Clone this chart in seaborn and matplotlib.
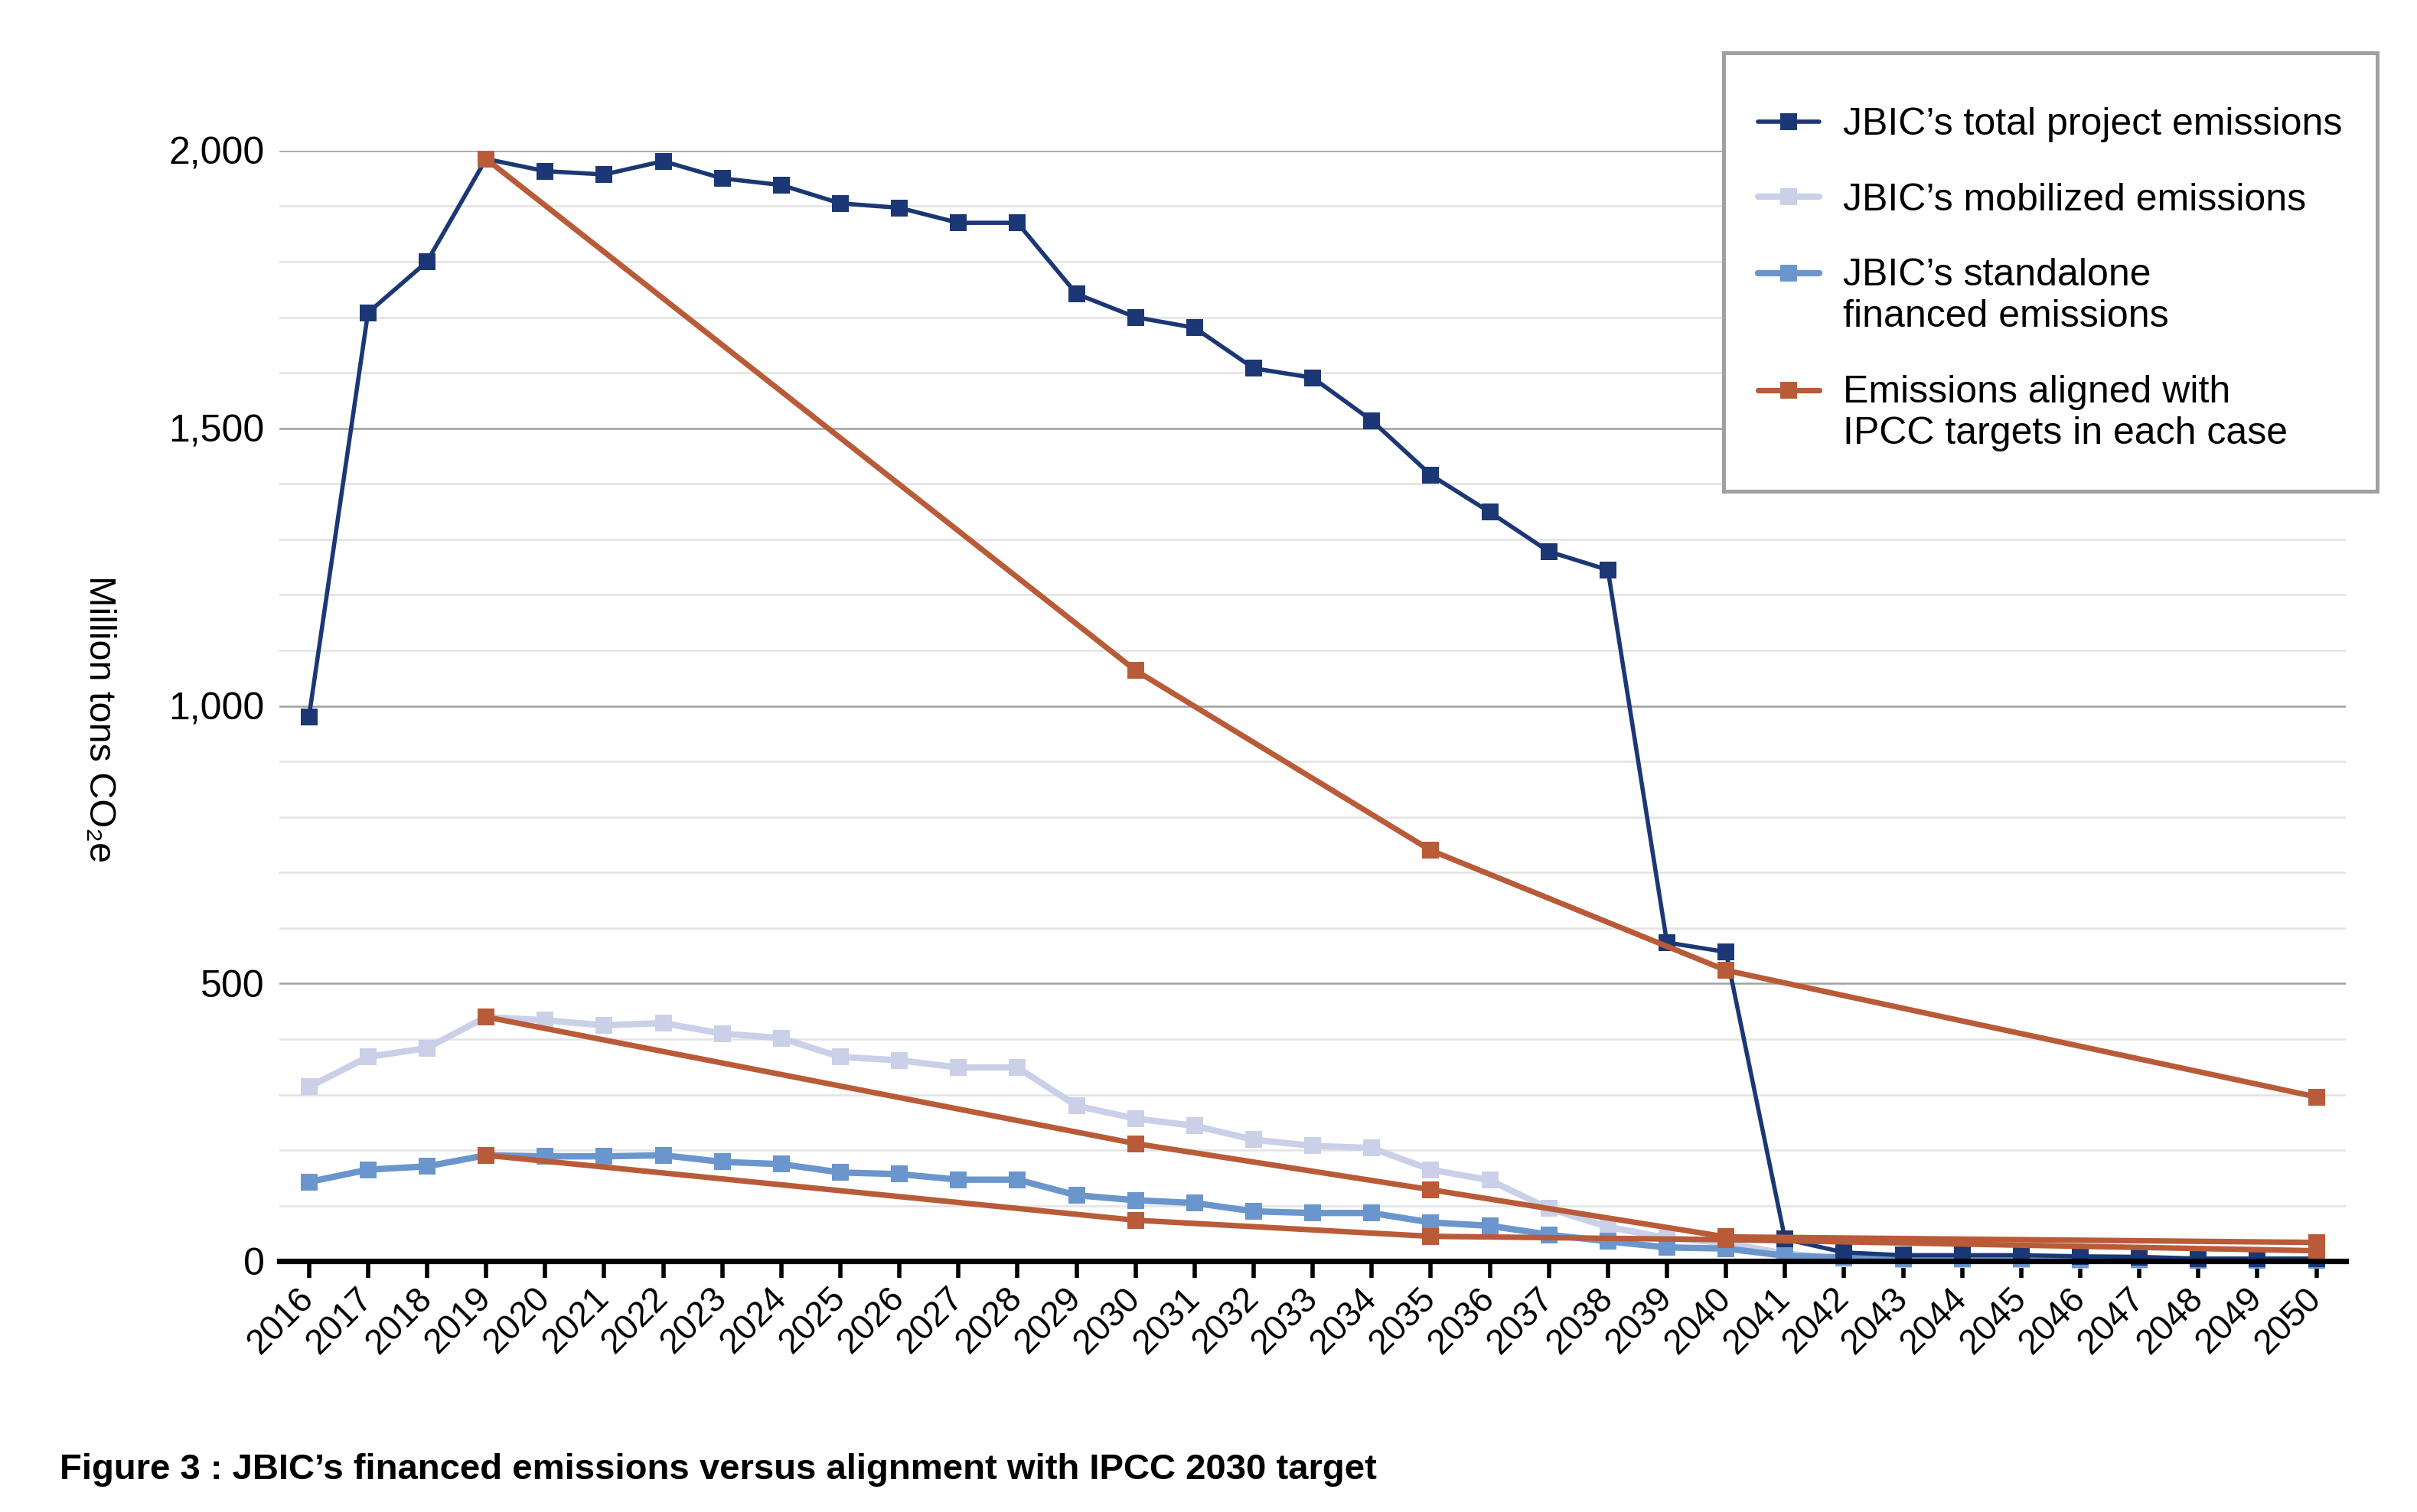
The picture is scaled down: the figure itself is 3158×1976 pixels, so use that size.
import matplotlib
matplotlib.use("Agg")
import matplotlib.pyplot as plt
from matplotlib.ticker import MultipleLocator, FuncFormatter
from matplotlib.transforms import ScaledTranslation
from matplotlib.patches import Rectangle
from matplotlib.legend_handler import HandlerLine2D
import pandas as pd
import seaborn as sns

years = list(range(2016, 2051))

total_emissions = [980, 1708, 1800, 1985, 1963, 1957, 1981, 1950, 1938, 1905,
                   1897, 1870, 1870, 1742, 1700, 1681, 1608, 1591, 1514, 1416,
                   1349, 1278, 1245, 574, 557, 40, 16, 11, 11, 11,
                   9, 8, 5, 5, 5]
mobilized_emissions = [314, 368, 384, 440, 434, 425, 429, 410, 402, 368,
                       362, 349, 349, 280, 257, 244, 219, 208, 204, 165,
                       146, 95, 62, 42, 33, 14, 4, 3, 3, 3,
                       2, 2, 2, 2, 2]
standalone_emissions = [143, 165, 171, 191, 189, 189, 191, 179, 175, 160,
                        157, 147, 147, 119, 110, 105, 90, 87, 87, 70,
                        64, 48, 36, 25, 23, 10, 7, 4, 4, 4,
                        3, 3, 2, 2, 2]

ipcc_years = [2019, 2030, 2035, 2040, 2050]
ipcc_total = [1985, 1064, 740, 524, 296]
ipcc_mobilized = [440, 212, 129, 44, 34]
ipcc_standalone = [191, 74, 45, 39, 19]

labels = [
    "JBIC\u2019s total project emissions",
    "JBIC\u2019s mobilized emissions",
    "JBIC\u2019s standalone\nfinanced emissions",
    "Emissions aligned with\nIPCC targets in each case",
]
NAVY = "#1c3775"
LAVENDER = "#c9d0e8"
BLUE = "#6a96cd"
ORANGE = "#b95b39"


class FirstLineHandler(HandlerLine2D):
    # puts the legend handle level with the first line of a two-line label
    def __init__(self, shift, **kw):
        super().__init__(**kw)
        self.shift = shift

    def create_artists(self, legend, orig_handle, xdescent, ydescent,
                       width, height, fontsize, trans):
        return super().create_artists(legend, orig_handle, xdescent,
                                      ydescent - 2 * self.shift, width,
                                      height, fontsize, trans)


sns.set_theme(style="white")
plt.rcParams["font.family"] = ["Liberation Sans", "DejaVu Sans"]
for key in ["text.color", "axes.labelcolor", "xtick.color", "ytick.color"]:
    plt.rcParams[key] = "black"

fig = plt.figure(figsize=(15.79, 9.88), dpi=200)
ax = fig.add_axes([0.1156, 0.1658, 0.855, 0.7346])

df = pd.DataFrame({"year": years, "total": total_emissions,
                   "mobilized": mobilized_emissions,
                   "standalone": standalone_emissions})
ipcc = pd.DataFrame({"year": ipcc_years, "total": ipcc_total,
                     "mobilized": ipcc_mobilized,
                     "standalone": ipcc_standalone})

ms = 8
sns.lineplot(data=df, x="year", y="mobilized", ax=ax, color=LAVENDER, lw=3,
             marker="s", markersize=ms, markeredgewidth=0, label=labels[1],
             zorder=3, clip_on=False)
sns.lineplot(data=df, x="year", y="standalone", ax=ax, color=BLUE, lw=3,
             marker="s", markersize=ms, markeredgewidth=0, label=labels[2],
             zorder=4, clip_on=False)
sns.lineplot(data=df, x="year", y="total", ax=ax, color=NAVY, lw=2,
             marker="s", markersize=ms, markeredgewidth=0, label=labels[0],
             zorder=5, clip_on=False)
for i, col in enumerate(["total", "mobilized", "standalone"]):
    sns.lineplot(data=ipcc, x="year", y=col, ax=ax, color=ORANGE, lw=2.6,
                 marker="s", markersize=ms, markeredgewidth=0,
                 label=labels[3] if i == 0 else "_nolegend_",
                 zorder=6, clip_on=False)

ax.set_xlim(2015.5, 2050.5)
ax.set_ylim(0, 2000)
ax.set_xticks(years)
ax.set_xticklabels([str(y) for y in years], rotation=45, ha="right",
                   va="center", rotation_mode="anchor", fontsize=16.5)
shift = ScaledTranslation(0.05, 0, fig.dpi_scale_trans)
for lbl in ax.get_xticklabels():
    lbl.set_transform(lbl.get_transform() + shift)
ax.yaxis.set_major_locator(MultipleLocator(500))
ax.yaxis.set_minor_locator(MultipleLocator(100))
ax.yaxis.set_major_formatter(FuncFormatter(lambda v, p: f"{int(v):,}"))
ax.tick_params(axis="y", which="both", length=0, labelsize=18, pad=7)
ax.tick_params(axis="x", which="major", length=8, width=2, color="black",
               bottom=True, pad=7)
ax.grid(axis="y", which="major", color="#a0a0a0", lw=0.9, zorder=0)
ax.grid(axis="y", which="minor", color="#e3e3e3", lw=0.9, zorder=0)
ax.grid(axis="x", visible=False)
for side in ["left", "right", "top"]:
    ax.spines[side].set_visible(False)
ax.spines["bottom"].set_color("black")
ax.spines["bottom"].set_linewidth(2.6)
ax.spines["bottom"].set_zorder(7)
ax.set_xlabel("")
ax.set_ylabel("")

fig.text(0.041, 0.5245, "Million tons CO\u2082e", rotation=270,
         ha="center", va="center", fontsize=17.5)

# legend: frame drawn as its own box, entries placed inside it
frame = Rectangle((0.7131, 0.6751), 0.2704, 0.29, transform=fig.transFigure,
                  facecolor="white", edgecolor="#a0a0a0", lw=1.8, zorder=4)
fig.add_artist(frame)

handles, labs = ax.get_legend_handles_labels()
order = [labs.index(l) for l in labels]
ax.get_legend().remove()
leg_handles = [handles[i] for i in order]
line_gap = 1.22
hmap = {leg_handles[2]: FirstLineHandler(0.5 * line_gap * 18),
        leg_handles[3]: FirstLineHandler(0.5 * line_gap * 18)}
leg = fig.legend(leg_handles, [labs[i] for i in order],
                 loc="upper left", bbox_to_anchor=(0.7274, 0.929),
                 frameon=False, fontsize=18, handler_map=hmap,
                 borderpad=0, labelspacing=1.05, handlelength=1.6,
                 handletextpad=0.62, borderaxespad=0)
leg.set_zorder(5)
for t in leg.get_texts():
    t.set_linespacing(line_gap)

fig.text(0.0247, 0.028,
         "Figure 3 : JBIC\u2019s financed emissions versus alignment with IPCC 2030 target",
         ha="left", va="center", fontsize=17, fontweight="bold")

fig.savefig("out.png", dpi=200, facecolor="white")
